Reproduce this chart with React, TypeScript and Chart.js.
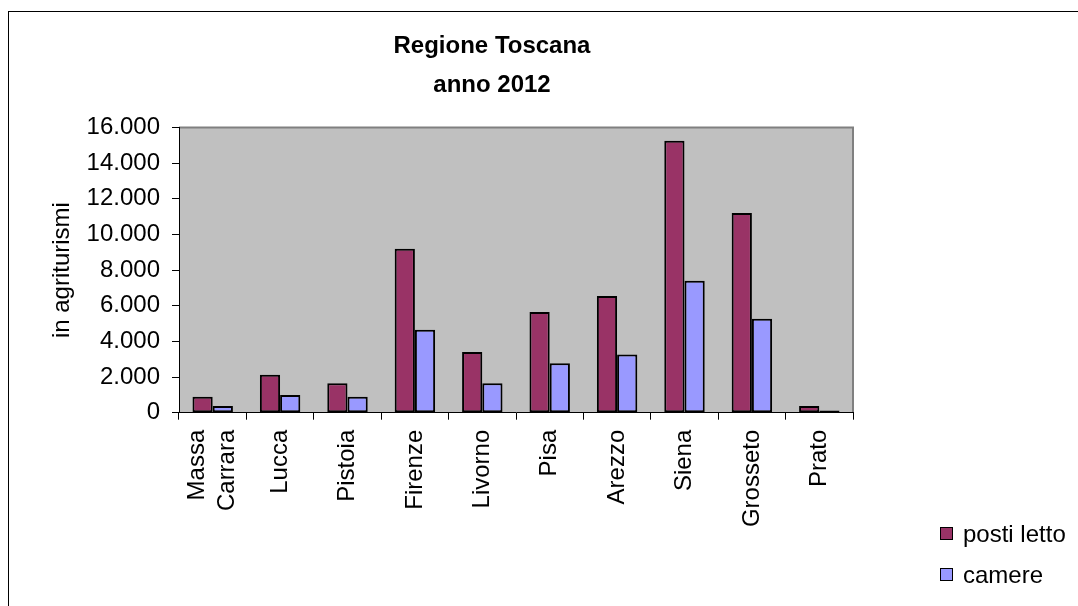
import React, { useEffect, useRef } from "react";
import { Chart, registerables } from "chart.js";

Chart.register(...registerables);

const categories: (string | string[])[] = [
  ["Massa", "Carrara"],
  "Lucca",
  "Pistoia",
  "Firenze",
  "Livorno",
  "Pisa",
  "Arezzo",
  "Siena",
  "Grosseto",
  "Prato",
];
const postiLetto = [900, 2130, 1650, 9200, 3400, 5650, 6550, 15250, 11200, 380];
const camere = [370, 1000, 900, 4650, 1650, 2770, 3270, 7400, 5270, 130];
const seriesNames = ["posti letto", "camere"];
const yMin = 0;
const yMax = 16000;
const yStep = 2000;
const titleLines = ["Regione Toscana", "anno 2012"];
const yTitle = "in agriturismi";

const FONT = '"Liberation Sans", Arial, sans-serif';
const COLORS = ["#993366", "#9999FF"];

const W = 1078;
const H = 606;
const PLOT_L = 179;
const PLOT_R = 853;
const PLOT_T = 127.5;
const PLOT_B = 412.7;

function fmt(v: number) {
  return String(v).replace(/\B(?=(\d{3})+(?!\d))/g, ".");
}

const bgPlugin = {
  id: "plotBg",
  beforeDraw(chart: any) {
    const { ctx, chartArea } = chart;
    ctx.save();
    ctx.fillStyle = "#C0C0C0";
    ctx.fillRect(chartArea.left, chartArea.top, chartArea.right - chartArea.left, chartArea.bottom - chartArea.top);
    ctx.strokeStyle = "#808080";
    ctx.lineWidth = 2;
    ctx.beginPath();
    ctx.moveTo(chartArea.left, chartArea.top);
    ctx.lineTo(chartArea.right, chartArea.top);
    ctx.lineTo(chartArea.right, chartArea.bottom);
    ctx.stroke();
    ctx.restore();
  },
};

const xLabelPlugin = {
  id: "xLabels",
  afterDraw(chart: any) {
    const { ctx, chartArea } = chart;
    const xs = chart.scales.x;
    const size = 24;
    const lineH = 30;
    ctx.save();
    ctx.font = `${size}px ${FONT}`;
    ctx.fillStyle = "#000";
    ctx.textAlign = "right";
    ctx.textBaseline = "middle";
    const yTop = chartArea.bottom + 7 + 10;
    categories.forEach((c, i) => {
      const lines = Array.isArray(c) ? c : [c];
      const x = xs.getPixelForTick(i);
      lines.forEach((ln, k) => {
        const dx = (k - (lines.length - 1) / 2) * lineH;
        ctx.save();
        ctx.translate(x + dx, yTop);
        ctx.rotate(-Math.PI / 2);
        ctx.fillText(ln, 0, 0);
        ctx.restore();
      });
    });
    ctx.restore();
  },
};

function ChartCanvas() {
  const ref = useRef<HTMLCanvasElement | null>(null);
  useEffect(() => {
    if (!ref.current) return;
    const chart = new Chart(ref.current, {
      type: "bar",
      data: {
        labels: categories.map((c) => (Array.isArray(c) ? c.join(" ") : c)),
        datasets: [
          {
            label: seriesNames[0],
            data: postiLetto,
            backgroundColor: COLORS[0],
            borderColor: "#000",
            borderWidth: 2,
            borderSkipped: false,
            categoryPercentage: 0.6,
            barPercentage: 1,
          },
          {
            label: seriesNames[1],
            data: camere,
            backgroundColor: COLORS[1],
            borderColor: "#000",
            borderWidth: 2,
            borderSkipped: false,
            categoryPercentage: 0.6,
            barPercentage: 1,
          },
        ],
      },
      options: {
        responsive: false,
        animation: false,
        events: [],
        layout: { padding: { left: 0, top: PLOT_T, right: W - PLOT_R, bottom: 0 } },
        plugins: {
          legend: { display: false },
          title: { display: false },
          tooltip: { enabled: false },
        },
        scales: {
          x: {
            offset: true,
            grid: {
              offset: true,
              drawOnChartArea: false,
              drawTicks: true,
              tickLength: 7,
              color: "#000",
              lineWidth: 1,
            },
            border: { display: true, color: "#000", width: 1 },
            ticks: { display: false },
            afterFit: (scale: any) => {
              scale.height = H - PLOT_B;
            },
          },
          y: {
            min: yMin,
            max: yMax,
            grid: {
              drawOnChartArea: false,
              drawTicks: true,
              tickLength: 7,
              color: "#000",
              lineWidth: 1,
            },
            border: { display: true, color: "#000", width: 1 },
            ticks: {
              stepSize: yStep,
              padding: 12,
              color: "#000",
              font: { family: FONT, size: 24 },
              callback: (v: any) => fmt(Number(v)),
            },
            title: {
              display: true,
              text: yTitle,
              color: "#000",
              font: { family: FONT, size: 24 },
              padding: { top: 48, bottom: 0 },
            },
            afterFit: (scale: any) => {
              scale.width = PLOT_L;
            },
          },
        },
      },
      plugins: [bgPlugin, xLabelPlugin],
    });
    return () => chart.destroy();
  }, []);
  return <canvas ref={ref} width={W} height={H} style={{ position: "absolute", left: 0, top: 0, width: W, height: H }} />;
}

export default function App() {
  return (
    <div style={{ position: "absolute", left: 0, top: 0, width: W, height: H, overflow: "hidden", background: "#fff", fontFamily: FONT }}>
      <div style={{ position: "absolute", left: 8, top: 11, width: 1200, height: 800, border: "1px solid #000" }} />
      <ChartCanvas />
      <div
        style={{
          position: "absolute",
          left: 292,
          top: 24.5,
          width: 400,
          textAlign: "center",
          fontWeight: "bold",
          fontSize: 24,
          lineHeight: "39px",
          color: "#000",
        }}
      >
        {titleLines.map((t) => (
          <div key={t}>{t}</div>
        ))}
      </div>
      {seriesNames.map((name, i) => (
        <div key={name} style={{ position: "absolute", left: 940, top: 513 + i * 41.3, height: 41, lineHeight: "41px", fontSize: 24, color: "#000", whiteSpace: "nowrap" }}>
          <span
            style={{
              position: "absolute",
              left: 0,
              top: 14,
              width: 11,
              height: 11,
              background: COLORS[i],
              border: "1.5px solid #000",
            }}
          />
          <span style={{ position: "absolute", left: 23 }}>{name}</span>
        </div>
      ))}
    </div>
  );
}
